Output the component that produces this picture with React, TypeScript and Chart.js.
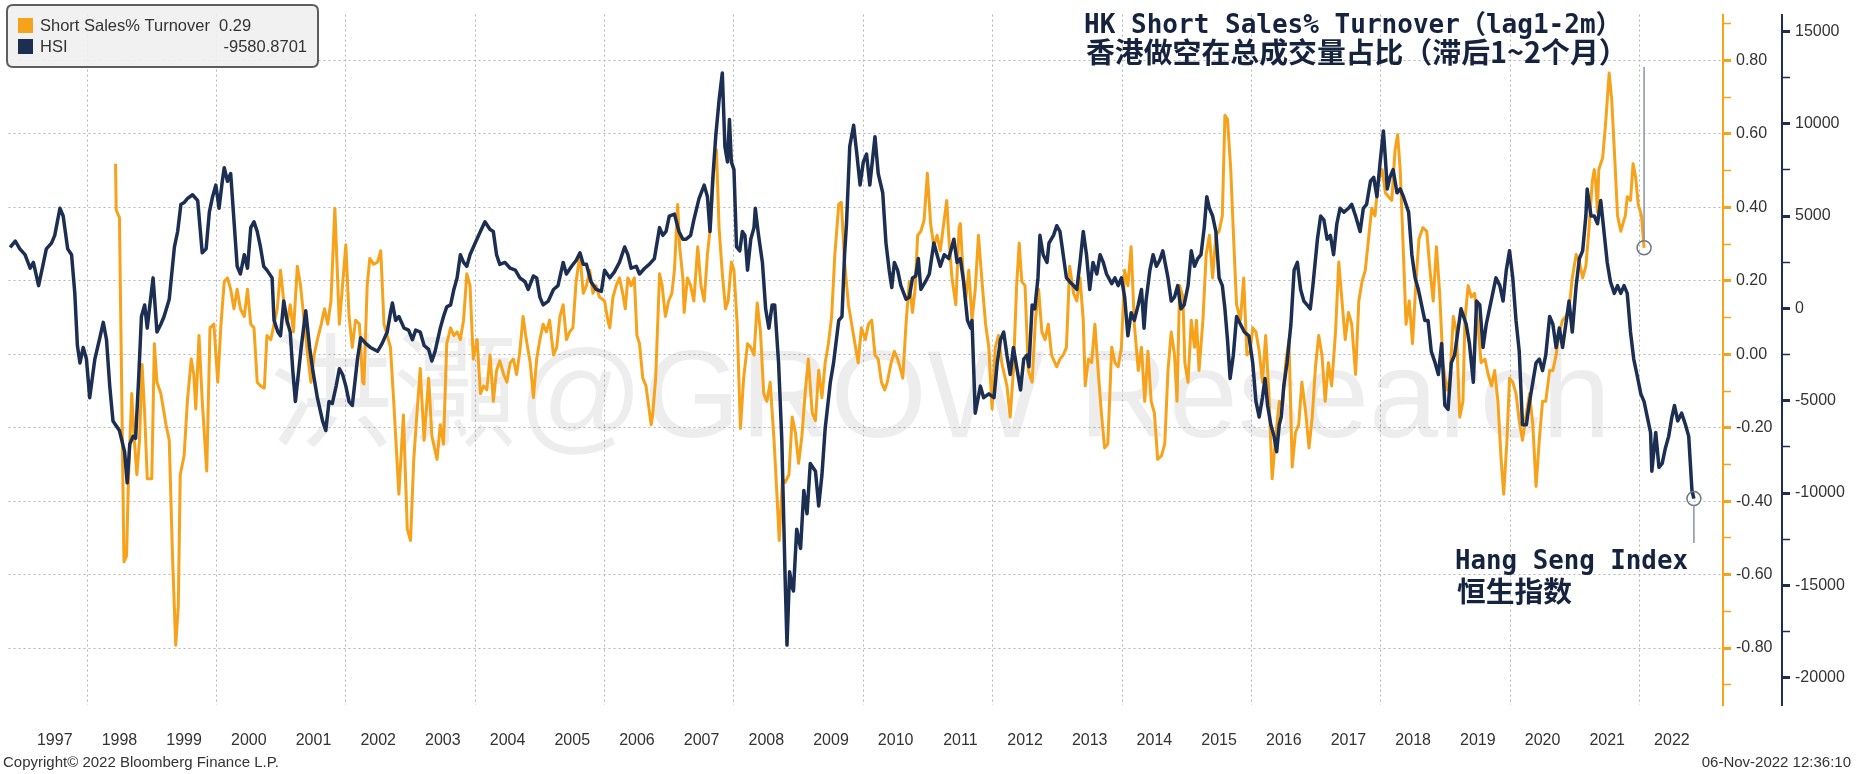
import React, { useEffect, useRef } from 'react';
import { Chart, registerables } from 'chart.js';

Chart.register(...registerables);

const ORANGE = '#F7A21B';
const NAVY = '#1C2F52';
const GRID = '#b4b4b4';
const TEXT = '#333333';
const NOTE = '#15233f';

const yearLabels = ['1997', '1998', '1999', '2000', '2001', '2002', '2003', '2004', '2005', '2006', '2007', '2008', '2009', '2010', '2011', '2012', '2013', '2014', '2015', '2016', '2017', '2018', '2019', '2020', '2021', '2022'];

const ssTicks = [-0.8, -0.6, -0.4, -0.2, 0, 0.2, 0.4, 0.6, 0.8];
const hsiTicks = [-20000, -15000, -10000, -5000, 0, 5000, 10000, 15000];

const legendNames = ['Short Sales% Turnover', 'HSI'];
const legendValues = ['0.29', '-9580.8701'];

const titleLine1 = 'HK Short Sales% Turnover\uFF08lag1-2m\uFF09';
const titleLine2 = '香港做空在总成交量占比（滞后1~2个月）';
const hsiNote1 = 'Hang Seng Index';
const hsiNote2 = '恒生指数';
const watermark = '洪灝@GROW Research';
const copyright = 'Copyright\u00A9 2022 Bloomberg Finance L.P.';
const stamp = '06-Nov-2022 12:36:10';

// HSI (dark line): decimal-year dates and values
const hsiDates = [
  1996.81, 1996.89, 1996.96, 1997.04, 1997.12, 1997.17, 1997.25, 1997.32, 1997.37, 1997.45, 1997.50, 1997.58, 1997.63, 1997.70, 1997.76, 1997.81, 1997.85, 1997.89, 1997.94, 1997.99,
  1998.04, 1998.12, 1998.19, 1998.25, 1998.30, 1998.35, 1998.40, 1998.50, 1998.58, 1998.62, 1998.66, 1998.71, 1998.75, 1998.80, 1998.84, 1998.89, 1998.93, 1998.96,
  1999.02, 1999.08, 1999.14, 1999.19, 1999.27, 1999.35, 1999.40, 1999.45, 1999.50, 1999.55, 1999.63, 1999.71, 1999.78, 1999.84, 1999.89, 1999.94, 1999.99,
  2000.04, 2000.09, 2000.12, 2000.17, 2000.22, 2000.27, 2000.32, 2000.37, 2000.43, 2000.48, 2000.53, 2000.58, 2000.63, 2000.68, 2000.73, 2000.78, 2000.86, 2000.89, 2000.95, 2000.99,
  2001.04, 2001.09, 2001.14, 2001.18, 2001.22, 2001.31, 2001.38, 2001.44, 2001.49, 2001.56, 2001.64, 2001.69, 2001.74, 2001.79, 2001.85, 2001.90, 2001.95,
  2002.00, 2002.05, 2002.10, 2002.18, 2002.23, 2002.31, 2002.38, 2002.49, 2002.56, 2002.64, 2002.69, 2002.72, 2002.77, 2002.82, 2002.90, 2002.97,
  2003.03, 2003.08, 2003.15, 2003.21, 2003.28, 2003.33, 2003.38, 2003.46, 2003.51, 2003.56, 2003.62, 2003.67, 2003.72, 2003.77, 2003.82, 2003.87, 2003.92,
  2004.00, 2004.08, 2004.15, 2004.23, 2004.28, 2004.33, 2004.38, 2004.46, 2004.54, 2004.62, 2004.69, 2004.77, 2004.82, 2004.90, 2004.95,
  2005.00, 2005.05, 2005.13, 2005.21, 2005.28, 2005.36, 2005.41, 2005.49, 2005.56, 2005.62, 2005.67, 2005.72, 2005.79, 2005.87, 2005.95,
  2006.00, 2006.08, 2006.15, 2006.23, 2006.31, 2006.36, 2006.41, 2006.49, 2006.54, 2006.62, 2006.69, 2006.77, 2006.85, 2006.90, 2006.95,
  2007.00, 2007.08, 2007.15, 2007.21, 2007.26, 2007.33, 2007.38, 2007.46, 2007.54, 2007.59, 2007.63, 2007.67, 2007.72, 2007.77, 2007.82, 2007.86, 2007.90, 2007.93, 2007.96,
  2008.00, 2008.04, 2008.09, 2008.13, 2008.17, 2008.21, 2008.26, 2008.31, 2008.33, 2008.38, 2008.44, 2008.49, 2008.54, 2008.59, 2008.63, 2008.69, 2008.74, 2008.79, 2008.82, 2008.86, 2008.90, 2008.92, 2008.97,
  2009.03, 2009.08, 2009.13, 2009.18, 2009.26, 2009.31, 2009.36, 2009.41, 2009.49, 2009.54, 2009.62, 2009.67, 2009.71, 2009.74, 2009.79, 2009.85, 2009.90, 2009.95,
  2010.00, 2010.05, 2010.10, 2010.18, 2010.23, 2010.30, 2010.35, 2010.40, 2010.44, 2010.48, 2010.53, 2010.58, 2010.66, 2010.71, 2010.76, 2010.81, 2010.85, 2010.89, 2010.96,
  2011.02, 2011.09, 2011.14, 2011.19, 2011.25, 2011.32, 2011.40, 2011.45, 2011.50, 2011.55, 2011.61, 2011.66, 2011.68, 2011.73, 2011.81, 2011.86, 2011.94,
  2012.02, 2012.07, 2012.12, 2012.17, 2012.22, 2012.27, 2012.32, 2012.37, 2012.43, 2012.48, 2012.53, 2012.56, 2012.61, 2012.65, 2012.70, 2012.73, 2012.78, 2012.84, 2012.87, 2012.94, 2012.99,
  2013.04, 2013.09, 2013.14, 2013.19, 2013.25, 2013.30, 2013.35, 2013.40, 2013.45, 2013.50, 2013.55, 2013.61, 2013.66, 2013.71, 2013.76, 2013.84, 2013.89, 2013.94, 2013.99,
  2014.04, 2014.09, 2014.14, 2014.19, 2014.25, 2014.30, 2014.34, 2014.37, 2014.43, 2014.48, 2014.53, 2014.58, 2014.63, 2014.71, 2014.76, 2014.81, 2014.86, 2014.91, 2014.96,
  2015.02, 2015.07, 2015.12, 2015.17, 2015.22, 2015.27, 2015.31, 2015.35, 2015.40, 2015.45, 2015.50, 2015.55, 2015.59, 2015.63, 2015.67, 2015.72, 2015.77, 2015.83, 2015.89, 2015.96,
  2016.02, 2016.07, 2016.12, 2016.17, 2016.21, 2016.25, 2016.30, 2016.35, 2016.39, 2016.43, 2016.46, 2016.50, 2016.55, 2016.61, 2016.66, 2016.71, 2016.76, 2016.81, 2016.86, 2016.91, 2016.95,
  2017.02, 2017.07, 2017.12, 2017.17, 2017.22, 2017.27, 2017.32, 2017.37, 2017.43, 2017.50, 2017.55, 2017.61, 2017.68, 2017.73, 2017.78, 2017.84, 2017.89, 2017.94, 2017.99,
  2018.04, 2018.07, 2018.10, 2018.14, 2018.19, 2018.25, 2018.30, 2018.35, 2018.43, 2018.48, 2018.53, 2018.58, 2018.63, 2018.68, 2018.73, 2018.78, 2018.84, 2018.89, 2018.94, 2018.99,
  2019.04, 2019.09, 2019.14, 2019.19, 2019.24, 2019.32, 2019.37, 2019.43, 2019.48, 2019.53, 2019.58, 2019.63, 2019.68, 2019.73, 2019.78, 2019.84, 2019.89, 2019.94, 2019.99,
  2020.04, 2020.09, 2020.14, 2020.19, 2020.25, 2020.30, 2020.35, 2020.40, 2020.45, 2020.50, 2020.55, 2020.61, 2020.66, 2020.71, 2020.76, 2020.81, 2020.86, 2020.91, 2020.96,
  2021.02, 2021.07, 2021.12, 2021.17, 2021.19, 2021.25, 2021.30, 2021.35, 2021.40, 2021.45, 2021.50, 2021.55, 2021.61, 2021.66, 2021.71, 2021.76, 2021.81, 2021.86, 2021.91, 2021.96,
  2022.02, 2022.07, 2022.12, 2022.17, 2022.19, 2022.25, 2022.30, 2022.35, 2022.40, 2022.45, 2022.50, 2022.54, 2022.59, 2022.65, 2022.71, 2022.76, 2022.81, 2022.84,
];
const hsiValues = [
  3300, 3640, 3222, 2908, 2175, 2489, 1234, 2385, 3222, 3536, 3954, 5420, 5001, 3222, 2908, 815, -2011, -2952, -2115, -2743,
  -4836, -2743, -1697, -755, -1697, -4208, -6092, -6615, -7766, -9441, -7348, -6929, -7034, -3580, -441, 187, -1069, -127,
  1652, -1278, -859, -441, 501, 3327, 4164, 5629, 5733, 5943, 6152, 5838, 3013, 3222, 5210, 6047, 6675,
  5420, 6885, 7617, 6885, 7303, 4792, 2280, 1861, 2908, 2175, 4373, 4687, 4164, 3327, 2280, 2071, 1652, -650, -1278, -1487,
  396, -650, -1278, -3371, -5045, -2115, -127, -2115, -3371, -4836, -6092, -6615, -5045, -5150, -4208, -3266, -3580,
  -4208, -5045, -5255, -2743, -1592, -1906, -2115, -2325, -1906, -1278, -232, 292, -650, -441, -1069, -1173,
  -1697, -1173, -1278, -2011, -2220, -2848, -2325, -1069, -441, 82, 187, 1024, 1652, 2908, 2489, 2280, 2908,
  3536, 4164, 4687, 4268, 4164, 2908, 2385, 2489, 2175, 2071, 1652, 1443, 1024, 1757, 1652,
  606, 187, 396, 1024, 1234, 2489, 1861, 2280, 2594, 3013, 2385, 2385, 1443, 1024, 920,
  2071, 1652, 1966, 2489, 3327, 2908, 2175, 2280, 1861, 2175, 2385, 2699, 4373, 3954, 4164,
  5001, 5106, 4164, 3745, 3745, 3954, 4792, 5943, 6675, 6047, 4164, 6885, 9396, 11280, 12745, 8768, 7931, 10233, 7931,
  7513, 3327, 3117, 4164, 3954, 2071, 3745, 4373, 5420, 3954, 2489, -22, -1069, 187, 187, -2952, -7138, -14464, -18231, -14255, -15092, -15301, -11952,
  -12999, -9859, -11115, -8394, -8813, -10697, -9022, -6511, -3999, -2952, -650, -441, 2908, 4582, 8768, 9919, 8350, 6675,
  7931, 8350, 6675, 9292, 7303, 6257, 3536, 2071, 1129, 2489, 2071, 1234, 501, 606, 1652, 1757, 2699, 1024, 1443,
  1861, 3536, 2908, 2280, 2908, 2699, 3745, 2489, 2699, 1443, -650, -1069, -650, -5673, -4208, -4836, -4627,
  -4836, -2952, -1697, -1278, -2534, -3580, -2115, -3162, -4418, -2743, -2534, -3162, 187, -22, 1652, 3954, 2908, 2489, 3536, 3954, 4478,
  4164, 2908, 1652, 1443, 1234, 1024, 2489, 4164, 2908, 1024, 2489, 1861, 2908, 2489, 1861, 1338, 1652, 1234, 1652,
  606, -1487, -232, -650, 187, 1024, -1069, 396, 2071, 2908, 2280, 2594, 3117, 1652, 396, 606, 1234, -22, 187,
  1234, 3117, 2280, 2699, 2908, 4373, 6047, 5420, 5001, 4164, 1652, 1234, -22, -1697, -3790, -2534, -441, -859, -1278, -1487,
  -2952, -5045, -5883, -4836, -3790, -5255, -6301, -6929, -7766, -6301, -5883, -4208, -2952, -859, 2071, 2489, 1024, 396, 187, -22, 1234,
  3745, 5001, 4792, 3745, 3954, 2908, 4582, 5420, 5211, 5420, 5629, 5001, 4164, 5420, 5629, 6885, 7094, 6047, 7931,
  9606, 8140, 6466, 7094, 7513, 6257, 6466, 6047, 5211, 2908, 1652, 1024, 187, -650, -650, -2325, -2952, -3580, -1906, -5255,
  -5464, -2952, -2534, -1278, -22, -859, -1906, -3999, 396, 187, -2115, -859, -22, 815, 1652, 1234, 396, 2071, 3117,
  1652, -650, -2325, -6301, -6301, -5045, -3999, -2952, -2743, -3371, -2534, -441, -859, -2115, -1069, -2115, -859, 396, -1278,
  1234, 2699, 3117, 5001, 6466, 5001, 5001, 4582, 5838, 4164, 2489, 1443, 815, 1234, 815, 1234, 815, -1278, -2743, -3580,
  -4627, -5045, -5883, -6720, -8813, -6720, -8604, -8394, -7557, -6929, -5883, -5255, -6092, -5673, -6301, -6929, -9859, -10300,
];

// Short Sales % Turnover (orange line): decimal-year dates and values
const ssDates = [
  1998.44, 1998.45, 1998.50, 1998.57, 1998.61, 1998.64, 1998.69, 1998.73, 1998.77, 1998.81, 1998.85, 1998.89, 1998.93,
  1999.00, 1999.04, 1999.08, 1999.14, 1999.22, 1999.27, 1999.32, 1999.37, 1999.41, 1999.44, 1999.50, 1999.55, 1999.61, 1999.65, 1999.68, 1999.73, 1999.78, 1999.85, 1999.90, 1999.96,
  2000.02, 2000.07, 2000.12, 2000.17, 2000.22, 2000.27, 2000.32, 2000.37, 2000.43, 2000.48, 2000.53, 2000.58, 2000.63, 2000.68, 2000.74, 2000.78, 2000.84, 2000.89, 2000.94, 2000.99,
  2001.04, 2001.09, 2001.14, 2001.19, 2001.25, 2001.30, 2001.36, 2001.41, 2001.46, 2001.51, 2001.56, 2001.62, 2001.67, 2001.72, 2001.77, 2001.83, 2001.90,
  2002.00, 2002.05, 2002.10, 2002.15, 2002.21, 2002.26, 2002.28, 2002.33, 2002.37, 2002.43, 2002.49, 2002.54, 2002.59, 2002.64, 2002.69, 2002.74, 2002.82, 2002.89, 2002.95,
  2003.00, 2003.05, 2003.10, 2003.15, 2003.21, 2003.28, 2003.33, 2003.41, 2003.46, 2003.51, 2003.56, 2003.62, 2003.67, 2003.72, 2003.77, 2003.82, 2003.87, 2003.92, 2003.97,
  2004.03, 2004.08, 2004.13, 2004.18, 2004.23, 2004.28, 2004.33, 2004.38, 2004.44, 2004.49, 2004.54, 2004.59, 2004.64, 2004.69, 2004.74, 2004.79, 2004.85, 2004.90, 2004.95,
  2005.00, 2005.05, 2005.10, 2005.15, 2005.21, 2005.26, 2005.31, 2005.36, 2005.41, 2005.46, 2005.51, 2005.56, 2005.62, 2005.67, 2005.72, 2005.77, 2005.82, 2005.87, 2005.92,
  2006.00, 2006.05, 2006.08, 2006.13, 2006.18, 2006.23, 2006.28, 2006.32, 2006.36, 2006.41, 2006.46, 2006.50, 2006.54, 2006.59, 2006.64, 2006.72, 2006.74, 2006.79, 2006.85, 2006.89, 2006.94, 2006.99,
  2007.04, 2007.08, 2007.13, 2007.16, 2007.21, 2007.23, 2007.28, 2007.33, 2007.38, 2007.44, 2007.49, 2007.54, 2007.59, 2007.64, 2007.69, 2007.73, 2007.77, 2007.82, 2007.87, 2007.91, 2007.96,
  2008.00, 2008.05, 2008.10, 2008.15, 2008.21, 2008.26, 2008.31, 2008.36, 2008.41, 2008.46, 2008.51, 2008.56, 2008.62, 2008.67, 2008.70, 2008.75, 2008.79, 2008.85, 2008.90, 2008.95,
  2009.00, 2009.05, 2009.10, 2009.15, 2009.21, 2009.26, 2009.31, 2009.36, 2009.41, 2009.46, 2009.51, 2009.56, 2009.62, 2009.66, 2009.71, 2009.77, 2009.82, 2009.87, 2009.92, 2009.97,
  2010.03, 2010.08, 2010.13, 2010.18, 2010.23, 2010.28, 2010.33, 2010.37, 2010.43, 2010.48, 2010.53, 2010.58, 2010.61, 2010.66, 2010.71, 2010.76, 2010.80, 2010.84, 2010.89, 2010.94, 2010.99,
  2011.04, 2011.09, 2011.14, 2011.19, 2011.25, 2011.29, 2011.32, 2011.37, 2011.43, 2011.48, 2011.50, 2011.54, 2011.58, 2011.63, 2011.68, 2011.73, 2011.78, 2011.84, 2011.89, 2011.94, 2011.99,
  2012.04, 2012.09, 2012.14, 2012.22, 2012.27, 2012.32, 2012.37, 2012.41, 2012.45, 2012.50, 2012.55, 2012.61, 2012.66, 2012.71, 2012.76, 2012.81, 2012.86, 2012.91, 2012.99,
  2013.04, 2013.09, 2013.14, 2013.19, 2013.25, 2013.30, 2013.35, 2013.40, 2013.43, 2013.48, 2013.53, 2013.58, 2013.63, 2013.68, 2013.73, 2013.78, 2013.84, 2013.89, 2013.94, 2013.99,
  2014.04, 2014.09, 2014.14, 2014.19, 2014.25, 2014.30, 2014.35, 2014.40, 2014.45, 2014.50, 2014.55, 2014.61, 2014.66, 2014.71, 2014.76, 2014.81, 2014.85, 2014.89, 2014.94, 2014.97,
  2015.02, 2015.07, 2015.12, 2015.15, 2015.19, 2015.25, 2015.30, 2015.35, 2015.40, 2015.45, 2015.50, 2015.55, 2015.59, 2015.63, 2015.68, 2015.73, 2015.77, 2015.83, 2015.88, 2015.93, 2015.98,
  2016.02, 2016.07, 2016.12, 2016.17, 2016.22, 2016.27, 2016.32, 2016.37, 2016.43, 2016.48, 2016.53, 2016.58, 2016.63, 2016.68, 2016.73, 2016.78, 2016.84, 2016.89, 2016.94, 2016.99,
  2017.04, 2017.09, 2017.14, 2017.19, 2017.24, 2017.30, 2017.35, 2017.40, 2017.45, 2017.50, 2017.55, 2017.61, 2017.66, 2017.71, 2017.76, 2017.81, 2017.86, 2017.91, 2017.96,
  2018.02, 2018.07, 2018.12, 2018.17, 2018.22, 2018.26, 2018.30, 2018.35, 2018.39, 2018.44, 2018.49, 2018.54, 2018.59, 2018.65, 2018.71, 2018.76, 2018.81, 2018.86, 2018.91, 2018.96,
  2019.02, 2019.07, 2019.12, 2019.17, 2019.22, 2019.27, 2019.30, 2019.35, 2019.40, 2019.45, 2019.50, 2019.55, 2019.61, 2019.66, 2019.71, 2019.76, 2019.81, 2019.86, 2019.90, 2019.95, 2019.99,
  2020.04, 2020.09, 2020.14, 2020.19, 2020.25, 2020.30, 2020.35, 2020.40, 2020.45, 2020.50, 2020.55, 2020.61, 2020.66, 2020.71, 2020.76, 2020.81, 2020.86, 2020.91, 2020.96,
  2021.02, 2021.07, 2021.12, 2021.17, 2021.22, 2021.27, 2021.30, 2021.32, 2021.35, 2021.37, 2021.43, 2021.48, 2021.53, 2021.57, 2021.61, 2021.66, 2021.71, 2021.76, 2021.78, 2021.81, 2021.86, 2021.90, 2021.94, 2021.98,
  2022.03, 2022.07,
];
const ssValues = [
  0.519, 0.393, 0.372, -0.565, -0.549, -0.339, -0.107, -0.234, -0.328, -0.234, -0.028, -0.16, -0.339,
  -0.339, 0.029, -0.076, -0.107, -0.192, -0.234, -0.549, -0.792, -0.686, -0.328, -0.276, -0.128, -0.013, -0.055, -0.149, 0.051, -0.128, -0.318, 0.072, 0.082,
  -0.076, 0.082, 0.198, 0.208, 0.177, 0.124, 0.177, 0.124, 0.103, 0.177, 0.082, 0.072, -0.076, -0.086, -0.092, 0.051, 0.04, 0.082, 0.124, 0.229,
  0.145, 0.082, 0.135, 0.061, 0.24, 0.187, 0.082, -0.002, -0.076, -0.002, 0.04, 0.082, 0.124, 0.082, 0.145, 0.398, 0.082,
  0.298, 0.103, 0.019, 0.093, 0.082, -0.076, -0.081, 0.187, 0.261, 0.245, 0.251, 0.282, 0.082, 0.051, 0.019, -0.128, -0.381, -0.165, -0.476,
  -0.507, -0.286, -0.16, -0.039, -0.234, -0.065, -0.223, -0.286, -0.192, -0.244, 0.029, 0.072, 0.051, 0.061, 0.04, 0.093, 0.219, 0.187, -0.013,
  0.04, -0.107, -0.086, -0.097, -0.002, -0.128, -0.044, -0.018, -0.055, -0.076, -0.023, -0.013, -0.055, 0.008, 0.103, 0.04, -0.023, -0.118, -0.013,
  0.04, 0.082, 0.061, 0.093, -0.002, 0.019, 0.103, 0.135, 0.04, 0.061, 0.072, 0.198, 0.272, 0.166, 0.187, 0.229, 0.166, 0.187, 0.156,
  0.145, 0.093, 0.072, 0.156, 0.187, 0.208, 0.166, 0.124, 0.208, 0.187, 0.208, 0.051, 0.029, -0.065, -0.086, -0.192, -0.171, -0.065, 0.219, 0.187, 0.103, 0.145,
  0.166, 0.229, 0.408, 0.293, 0.208, 0.114, 0.208, 0.187, 0.145, 0.293, 0.187, 0.145, 0.272, 0.356, 0.503, 0.556, 0.345, 0.219, 0.124, 0.145, 0.251,
  0.229, 0.082, -0.202, -0.065, 0.029, 0.019, -0.002, 0.14, 0.061, -0.107, -0.128, -0.076, -0.234, -0.402, -0.507, -0.339, -0.349, -0.328, -0.171, -0.213,
  -0.297, -0.223, -0.107, -0.013, -0.16, -0.181, -0.044, -0.118, -0.023, 0.029, 0.103, 0.272, 0.408, 0.414, 0.251, 0.135, 0.082, 0.029, -0.023, 0.072,
  0.04, 0.082, 0.093, -0.002, -0.013, -0.076, -0.097, -0.076, -0.023, 0.008, -0.013, -0.044, -0.065, 0.082, 0.198, 0.114, 0.177, 0.324, 0.335, 0.366, 0.493,
  0.356, 0.293, 0.324, 0.282, 0.366, 0.419, 0.324, 0.208, 0.135, 0.345, 0.356, 0.229, 0.145, 0.229, 0.093, 0.177, 0.324, 0.187, 0.082, 0.019, -0.149,
  0.019, 0.051, -0.023, -0.086, -0.171, -0.044, 0.187, 0.303, 0.198, 0.187, -0.044, -0.076, 0.093, 0.177, 0.061, 0.04, 0.082, -0.002, -0.034,
  -0.013, -0.002, 0.019, 0.24, 0.166, 0.145, 0.208, 0.093, -0.086, -0.013, -0.023, 0.082, -0.044, -0.16, -0.255, -0.244, 0.019, -0.023, -0.034, 0.019,
  0.229, 0.187, 0.293, 0.082, -0.044, 0.019, -0.128, 0.008, -0.128, -0.16, -0.286, -0.276, -0.244, -0.044, 0.061, 0.0, -0.128, 0.187, 0.156, -0.023,
  -0.076, 0.093, 0.019, 0.093, -0.044, 0.093, 0.272, 0.324, 0.208, 0.324, 0.335, 0.377, 0.651, 0.64, 0.503, 0.293, 0.135, 0.093, 0.208, -0.002, 0.008,
  0.072, 0.061, 0.008, -0.076, 0.051, -0.107, -0.339, -0.234, -0.128, -0.139, -0.023, 0.04, -0.307, -0.213, -0.192, -0.076, -0.16, -0.255, -0.171, -0.034,
  0.051, -0.002, -0.128, -0.023, -0.086, 0.061, 0.251, 0.145, 0.04, 0.114, 0.082, -0.055, 0.145, 0.198, 0.229, 0.314, 0.398, 0.377, 0.472,
  0.503, 0.44, 0.429, 0.419, 0.556, 0.598, 0.503, 0.272, 0.082, 0.145, 0.029, 0.187, 0.314, 0.345, 0.335, 0.229, 0.145, 0.293, 0.166, -0.023,
  -0.097, -0.065, 0.103, 0.061, -0.171, -0.128, 0.093, 0.187, 0.156, 0.166, 0.082, -0.023, -0.013, -0.055, -0.086, -0.044, -0.128, -0.286, -0.381, -0.234, -0.065,
  -0.076, -0.107, -0.181, -0.234, -0.16, -0.107, -0.192, -0.36, -0.234, -0.128, -0.128, -0.044, -0.044, -0.002, 0.061, 0.093, 0.103, 0.124, 0.208,
  0.272, 0.251, 0.208, 0.24, 0.345, 0.472, 0.503, 0.472, 0.387, 0.503, 0.535, 0.64, 0.766, 0.693, 0.556, 0.377, 0.335, 0.366, 0.377, 0.429, 0.419, 0.519, 0.482, 0.408,
  0.377, 0.29,
];

// axis ranges
const X_MIN = 1996.785;
const X_MAX = 2023.29;
const SS_MIN = -0.955;
const SS_MAX = 0.925;
const HSI_MIN = -21474;
const HSI_MAX = 15907;

const near = (a: number, b: number) => Math.abs(a - b) < 1e-6;
const isIn = (list: number[], v: number) => list.some((t) => near(t, v));

function withMinor(list: number[], lo: number, hi: number) {
  const step = list[1] - list[0];
  const out: number[] = [list[0] - step / 2];
  list.forEach((v) => {
    out.push(v);
    out.push(v + step / 2);
  });
  return out.filter((v) => v >= lo && v <= hi);
}

const xTickValues: number[] = [];
yearLabels.forEach((l) => {
  const y = Number(l);
  if (y % 2 === 0) xTickValues.push(y);
  xTickValues.push(y + 0.5);
});

function fitFont(ctx: CanvasRenderingContext2D, text: string, weight: string, family: string, width: number) {
  ctx.font = `${weight} 100px ${family}`;
  const w = ctx.measureText(text).width;
  const size = (100 * width) / w;
  ctx.font = `${weight} ${size}px ${family}`;
  return size;
}

const SANS = '"Liberation Sans", Arial, sans-serif';

const overlayPlugin = {
  id: 'overlay',
  beforeDatasetsDraw(chart: any) {
    const ctx = chart.ctx as CanvasRenderingContext2D;
    ctx.save();
    fitFont(ctx, watermark, 'normal', '"Liberation Sans", "Noto Sans CJK TC", sans-serif', 1342);
    ctx.fillStyle = 'rgba(0,0,0,0.07)';
    ctx.textAlign = 'left';
    ctx.textBaseline = 'alphabetic';
    ctx.fillText(watermark, 269, 437);
    ctx.restore();
  },
  afterDraw(chart: any) {
    const ctx = chart.ctx as CanvasRenderingContext2D;
    ctx.save();

    // pointer lines from the last points
    const hMeta = chart.getDatasetMeta(0).data;
    const sMeta = chart.getDatasetMeta(1).data;
    const hp = hMeta[hMeta.length - 1];
    const sp = sMeta[sMeta.length - 1];
    ctx.strokeStyle = '#8a93a5';
    ctx.lineWidth = 1.5;
    ctx.beginPath();
    ctx.moveTo(hp.x, hp.y + 7);
    ctx.lineTo(hp.x, 543);
    ctx.moveTo(sp.x, sp.y - 7);
    ctx.lineTo(sp.x, 67);
    ctx.stroke();

    // title annotation
    ctx.fillStyle = NOTE;
    ctx.textAlign = 'left';
    ctx.textBaseline = 'middle';
    fitFont(ctx, titleLine1, 'bold', '"DejaVu Sans Mono", "Noto Sans CJK SC", monospace', 538);
    ctx.fillText(titleLine1, 1084, 26);
    fitFont(ctx, titleLine2, 'bold', '"Noto Sans CJK SC", sans-serif', 542);
    ctx.fillText(titleLine2, 1086, 52);

    // Hang Seng annotation
    fitFont(ctx, hsiNote1, 'bold', '"DejaVu Sans Mono", monospace', 233);
    ctx.fillText(hsiNote1, 1455, 562);
    fitFont(ctx, hsiNote2, 'bold', '"Noto Sans CJK SC", sans-serif', 115);
    ctx.fillText(hsiNote2, 1457, 591);

    // legend box
    const bx = 7, by = 5, bw = 311, bh = 62, r = 6;
    ctx.beginPath();
    ctx.moveTo(bx + r, by);
    ctx.lineTo(bx + bw - r, by);
    ctx.quadraticCurveTo(bx + bw, by, bx + bw, by + r);
    ctx.lineTo(bx + bw, by + bh - r);
    ctx.quadraticCurveTo(bx + bw, by + bh, bx + bw - r, by + bh);
    ctx.lineTo(bx + r, by + bh);
    ctx.quadraticCurveTo(bx, by + bh, bx, by + bh - r);
    ctx.lineTo(bx, by + r);
    ctx.quadraticCurveTo(bx, by, bx + r, by);
    ctx.closePath();
    ctx.fillStyle = 'rgba(240,240,240,0.9)';
    ctx.fill();
    ctx.strokeStyle = '#5e5e5e';
    ctx.lineWidth = 2;
    ctx.stroke();

    const rowsY = [26, 47];
    const sw = [ORANGE, NAVY];
    ctx.font = `16.5px ${SANS}`;
    ctx.textBaseline = 'middle';
    legendNames.forEach((name, i) => {
      ctx.fillStyle = sw[i];
      ctx.fillRect(18, rowsY[i] - 8, 15, 15);
      ctx.fillStyle = TEXT;
      ctx.textAlign = 'left';
      ctx.fillText(name, 40, rowsY[i]);
    });
    ctx.textAlign = 'left';
    ctx.fillText(legendValues[0], 219, rowsY[0]);
    ctx.textAlign = 'right';
    ctx.fillText(legendValues[1], 307, rowsY[1]);

    // footer
    ctx.font = `15px ${SANS}`;
    ctx.fillStyle = TEXT;
    ctx.textAlign = 'left';
    ctx.fillText(copyright, 3, 763);
    ctx.textAlign = 'right';
    ctx.fillText(stamp, 1851, 763);

    ctx.restore();
  },
};

export default function App() {
  const ref = useRef<HTMLCanvasElement>(null);

  useEffect(() => {
    const canvas = ref.current;
    if (!canvas) return;
    Chart.defaults.font.family = SANS;

    const lastRadius = (c: any) => (c.dataIndex === c.dataset.data.length - 1 ? 7 : 0);

    const chart = new Chart(canvas, {
      type: 'line',
      data: {
        datasets: [
          {
            label: 'HSI',
            data: hsiDates.map((x, i) => ({ x, y: hsiValues[i] })),
            yAxisID: 'yHSI',
            borderColor: NAVY,
            borderWidth: 3.5,
            borderJoinStyle: 'round',
            tension: 0,
            pointRadius: lastRadius,
            pointHoverRadius: 0,
            pointBackgroundColor: 'rgba(255,255,255,0)',
            pointBorderColor: '#6d7587',
            pointBorderWidth: 1.5,
          },
          {
            label: 'Short Sales% Turnover',
            data: ssDates.map((x, i) => ({ x, y: ssValues[i] })),
            yAxisID: 'ySS',
            borderColor: ORANGE,
            borderWidth: 3,
            borderJoinStyle: 'round',
            tension: 0,
            pointRadius: lastRadius,
            pointHoverRadius: 0,
            pointBackgroundColor: 'rgba(255,255,255,0)',
            pointBorderColor: '#6d7587',
            pointBorderWidth: 1.5,
          },
        ],
      },
      options: {
        responsive: false,
        animation: false,
        events: [],
        layout: { padding: 0 },
        plugins: { legend: { display: false }, tooltip: { enabled: false } },
        scales: {
          x: {
            type: 'linear',
            position: 'bottom',
            min: X_MIN,
            max: X_MAX,
            afterBuildTicks: (s: any) => {
              s.ticks = xTickValues.map((value) => ({ value }));
            },
            afterFit: (s: any) => {
              s.height = 69;
            },
            border: { display: false, dash: [2, 3] },
            grid: {
              drawTicks: false,
              lineWidth: 1,
              color: (c: any) => (c.tick && Number.isInteger(c.tick.value) ? GRID : 'rgba(0,0,0,0)'),
            },
            ticks: {
              autoSkip: false,
              maxRotation: 0,
              minRotation: 0,
              padding: 26,
              color: TEXT,
              font: { size: 16 },
              callback: (v: any) => {
                const n = Number(v);
                if (near(n - Math.floor(n), 0.5)) return yearLabels[Math.floor(n) - Number(yearLabels[0])];
                return '';
              },
            },
          },
          ySS: {
            type: 'linear',
            position: 'right',
            weight: 0,
            min: SS_MIN,
            max: SS_MAX,
            afterBuildTicks: (s: any) => {
              s.ticks = withMinor(ssTicks, SS_MIN, SS_MAX).map((value) => ({ value }));
            },
            afterFit: (s: any) => {
              s.width = 59;
            },
            border: { display: true, color: ORANGE, width: 2, dash: [2, 3] },
            grid: {
              drawOnChartArea: true,
              drawTicks: true,
              tickLength: 8,
              color: (c: any) => (c.tick && isIn(ssTicks, c.tick.value) ? GRID : 'rgba(0,0,0,0)'),
              lineWidth: 1,
              tickColor: ORANGE,
              tickWidth: (c: any) => (c.tick && isIn(ssTicks, c.tick.value) ? 3 : 1.5),
              tickBorderDash: [],
            },
            ticks: {
              autoSkip: false,
              padding: 5,
              color: TEXT,
              font: { size: 16 },
              callback: (v: any) => (isIn(ssTicks, Number(v)) ? Number(v).toFixed(2) : ''),
            },
          },
          yHSI: {
            type: 'linear',
            position: 'right',
            weight: 1,
            min: HSI_MIN,
            max: HSI_MAX,
            afterBuildTicks: (s: any) => {
              s.ticks = withMinor(hsiTicks, HSI_MIN, HSI_MAX).map((value) => ({ value }));
            },
            afterFit: (s: any) => {
              s.width = 76;
            },
            border: { display: true, color: NAVY, width: 2 },
            grid: {
              drawOnChartArea: false,
              drawTicks: true,
              tickLength: 8,
              color: NAVY,
              tickColor: NAVY,
              tickWidth: (c: any) => (c.tick && isIn(hsiTicks, c.tick.value) ? 3 : 1.5),
              tickBorderDash: [],
            },
            ticks: {
              autoSkip: false,
              padding: 5,
              color: TEXT,
              font: { size: 16 },
              callback: (v: any) => (isIn(hsiTicks, Number(v)) ? String(Math.round(Number(v))) : ''),
            },
          },
        },
      } as any,
      plugins: [overlayPlugin],
    });

    return () => chart.destroy();
  }, []);

  return (
    <div style={{ position: 'absolute', left: 0, top: 0, width: 1858, height: 774, background: '#ffffff' }}>
      <canvas ref={ref} width={1858} height={774} style={{ width: 1858, height: 774, display: 'block' }} />
    </div>
  );
}
